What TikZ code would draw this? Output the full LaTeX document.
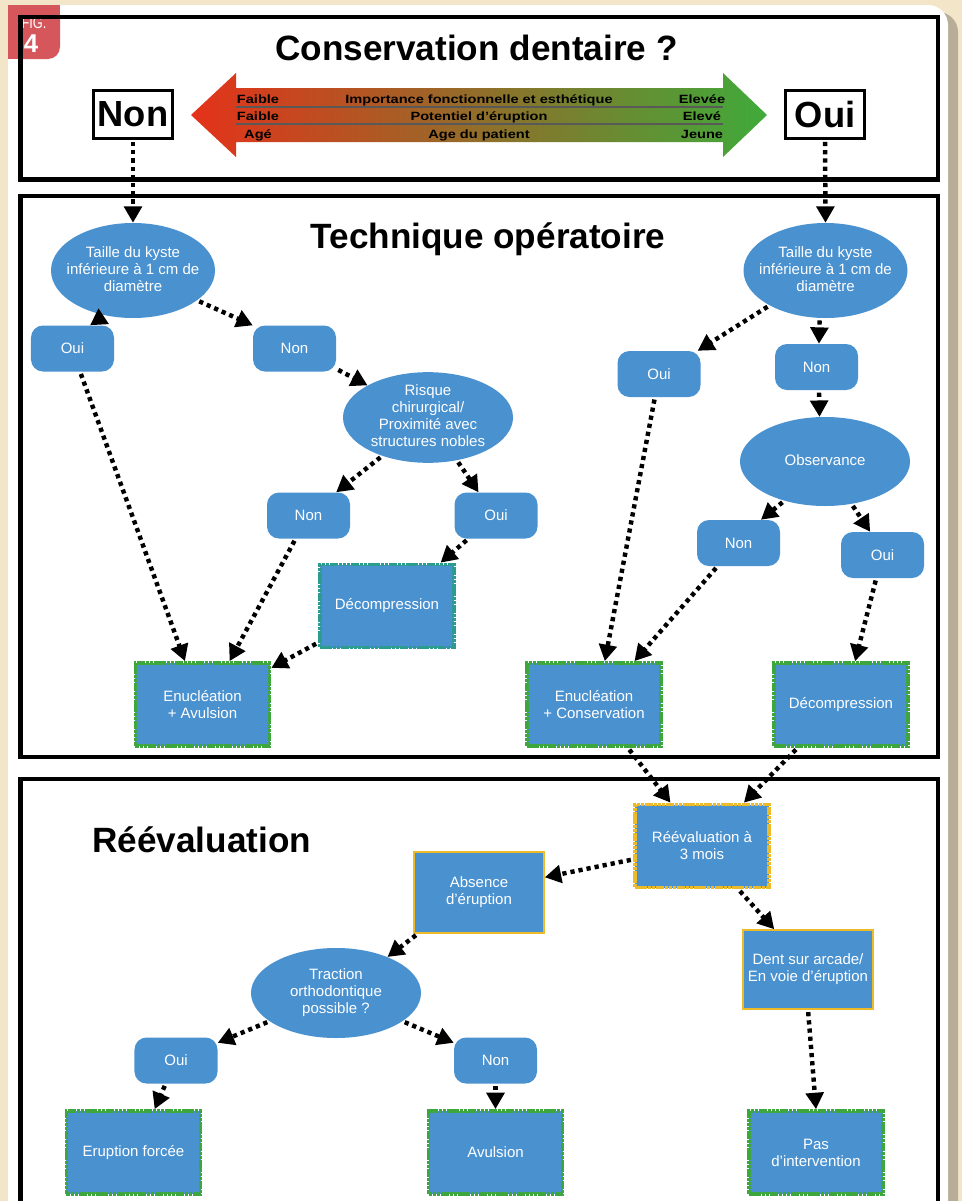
\documentclass[tikz,border=0pt]{standalone}
\usepackage{fontspec}
\setmainfont{Liberation Sans}
\usepackage{graphicx}
\usetikzlibrary{shapes.geometric,arrows.meta}
\definecolor{fond}{HTML}{F2E5C8}
\definecolor{ombre}{HTML}{B8AD98}
\definecolor{rouge}{HTML}{D5575B}
\definecolor{bleu}{HTML}{4A91D0}
\definecolor{vert}{HTML}{3DA63D}
\definecolor{sarcelle}{HTML}{2A9D8F}
\definecolor{or}{HTML}{EDBB2A}
\definecolor{flrouge}{HTML}{E4321A}
\definecolor{flmilieu}{HTML}{9A7D1C}
\definecolor{flvert}{HTML}{3FAA3A}
\begin{document}
\begin{tikzpicture}[x=0.03cm,y=-0.03cm,
  boite/.style={fill=bleu,text=white,font=\fontsize{12.8}{14.5}\selectfont,align=center,inner sep=0pt},
  choix/.style={boite,rounded corners=0.36cm,minimum width=2.49cm,minimum height=1.38cm},
  bulle/.style={boite,ellipse,minimum width=5.1cm,minimum height=2.72cm},
  resultat/.style={boite,draw=vert,line width=3.2pt,dash pattern=on 3pt off 0.6pt,minimum width=4.02cm,minimum height=2.49cm},
  jaune/.style={boite,draw=or,line width=1.3pt,minimum width=3.9cm},
  fleche/.style={line width=3.8pt,dash pattern=on 3.6pt off 3.4pt,-{Triangle[length=14pt,width=15pt]},shorten <=2pt},
  cadre/.style={draw,line width=3.6pt},
  reponse/.style={draw,fill=white,line width=2.5pt,font=\bfseries\fontsize{31}{31}\selectfont,minimum width=2.36cm,minimum height=1.42cm,inner sep=0pt},
  titre/.style={font=\bfseries\fontsize{30}{30}\selectfont,inner sep=0pt},
  echelle/.style={font=\bfseries\fontsize{10.2}{11}\selectfont,inner sep=0pt,anchor=base}]
\def\etxt#1{\smash{\raisebox{-0.25em}{\makebox[0pt]{\begin{tabular}{@{}c@{}}#1\end{tabular}}}}}
\useasboundingbox (0,0) rectangle (962,1201);
\clip (0,0) rectangle (962,1201);
\fill[fond] (0,0) rectangle (962,1201);
\fill[ombre,rounded corners=0.6cm] (14,12) rectangle (958,1240);
\fill[white,rounded corners=0.6cm] (8,5) rectangle (948,1240);
\fill[white] (8,5) rectangle (900,1240);
\fill[rouge,rounded corners=0.36cm] (8,5) rectangle (60,59);
\fill[rouge] (8,5) rectangle (60,30);
\fill[rouge] (8,5) rectangle (35,59);
\node[text=white,font=\fontsize{14}{14}\selectfont,inner sep=0pt,anchor=base] (fig) at (34,28) {\scalebox{0.78}[1]{FIG.}};
\node[text=white,font=\bfseries\fontsize{22}{22}\selectfont,inner sep=0pt,anchor=base] (numero) at (31,52) {4};
\draw[cadre] (20.5,17) rectangle (938,179.5);
\draw[cadre] (20.5,196) rectangle (938,757);
\draw[cadre] (20.5,779) rectangle (938,1220);
\node[titre,anchor=base] (titre1) at (476.5,60) {Conservation dentaire ?};
\node[titre,anchor=base] (titre2) at (488,248) {Technique opératoire};
\node[titre,anchor=base west] (titre3) at (92,852) {Réévaluation};
\shade[left color=flrouge,middle color=flmilieu,right color=flvert] (191,115) -- (236,73) -- (236,88) -- (723,88) -- (723,73) -- (767,115) -- (723,157) -- (723,142) -- (236,142) -- (236,157) -- cycle;
\draw[line width=1.4pt,black!65] (236,107) -- (723,107) (236,124) -- (723,124);
\foreach \g/\m/\d/\y [count=\i] in {Faible/Importance fonctionnelle et esthétique/Elevée/103.5,Faible/Potentiel d'éruption/Elevé/120.5,Agé/Age du patient/Jeune/138}{
  \node[echelle] (g\i) at (258,\y) {\scalebox{1.22}[1]{\g}};
  \node[echelle] (m\i) at (479,\y) {\scalebox{1.22}[1]{\m}};
  \node[echelle] (d\i) at (702,\y) {\scalebox{1.22}[1]{\d}};
}
\node[reponse] (non) at (133,114.5) {Non};
\node[reponse] (oui) at (825,114.5) {Oui};
\node[bulle,minimum width=4.92cm,minimum height=2.85cm] (taille1) at (133,270.5) {\etxt{Taille du kyste\\inférieure à 1 cm de\\diamètre}};
\node[choix] (oui1) at (72.5,348.5) {Oui};
\node[choix] (non1) at (294.5,348.5) {Non};
\node[bulle] (risque) at (428,417.5) {\etxt{Risque\\chirurgical/\\Proximité avec\\structures nobles}};
\node[choix] (non2) at (308.5,515.5) {Non};
\node[choix] (oui2) at (496,515.5) {Oui};
\node[resultat,draw=sarcelle] (decomp1) at (387,606) {Décompression};
\node[resultat] (enuc1) at (202.5,704.5) {Enucléation\\+ Avulsion};
\node[bulle,minimum width=4.92cm,minimum height=2.85cm] (taille2) at (825.5,270.5) {\etxt{Taille du kyste\\inférieure à 1 cm de\\diamètre}};
\node[choix] (ouiR) at (659,374) {Oui};
\node[choix] (nonR) at (816.5,367) {Non};
\node[bulle,minimum height=2.67cm] (obs) at (825,461.5) {\etxt{Observance}};
\node[choix] (nonR2) at (738.5,543) {Non};
\node[choix] (ouiR2) at (882.5,555) {Oui};
\node[resultat] (enucC) at (594,704.5) {Enucléation\\+ Conservation};
\node[resultat] (decompR) at (841,704.5) {Décompression};
\node[resultat,draw=or] (reeval) at (702,846) {Réévaluation à\\3 mois};
\node[jaune,minimum height=2.43cm] (absence) at (479,892.5) {Absence\\d'éruption};
\node[jaune,minimum height=2.37cm] (dent) at (808,969.5) {Dent sur arcade/\\En voie d'éruption};
\node[bulle,minimum height=2.7cm] (traction) at (336,993) {\etxt{Traction\\orthodontique\\possible ?}};
\node[choix] (ouiB) at (176,1060.5) {Oui};
\node[choix] (nonB) at (495.5,1060.5) {Non};
\node[resultat] (eruption) at (133.5,1152.5) {Eruption forcée};
\node[resultat] (avulsion) at (495.5,1152.5) {Avulsion};
\node[resultat] (pas) at (816,1152.5) {Pas\\d'intervention};
\draw[fleche] (non.south) -- (taille1.north);
\draw[fleche] (oui.south) -- (taille2.north);
\draw[fleche] (taille1.-122) -- (oui1.53);
\draw[fleche] (taille1.-25) -- (non1.151);
\draw[fleche] (oui1.-72) -- (enuc1.112);
\draw[fleche] (non1.-26) -- (risque.152);
\draw[fleche] (risque.-140) -- (non2.40);
\draw[fleche] (risque.-56) -- (oui2.127);
\draw[fleche] (non2.-119) -- (enuc1.58);
\draw[fleche] (oui2.-140) -- (decomp1.39);
\draw[fleche] (decomp1.-152) -- (enuc1.28);
\draw[fleche] (taille2.-148) -- (ouiR.31);
\draw[fleche] (taille2.-97) -- (nonR.84);
\draw[fleche] (nonR.-84) -- (obs.97);
\draw[fleche] (obs.-136) -- (nonR2.46);
\draw[fleche] (obs.-58) -- (ouiR2.118);
\draw[fleche] (ouiR.-100) -- (enucC.76);
\draw[fleche] (nonR2.-132) -- (enucC.47);
\draw[fleche] (ouiR2.-105) -- (decompR.72);
\draw[fleche] (enucC.-52) -- (reeval.126);
\draw[fleche] (decompR.-135) -- (reeval.46);
\draw[fleche] (reeval.-169) -- (absence.13);
\draw[fleche] (reeval.-50) -- (dent.130);
\draw[fleche] (absence.-146) -- (traction.35);
\draw[fleche] (traction.-157) -- (ouiB.23);
\draw[fleche] (traction.-23) -- (nonB.157);
\draw[fleche] (ouiB.-114) -- (eruption.64);
\draw[fleche] (nonB.south) -- (avulsion.north);
\draw[fleche] (dent.south) -- (pas.north);
\end{tikzpicture}
\end{document}
